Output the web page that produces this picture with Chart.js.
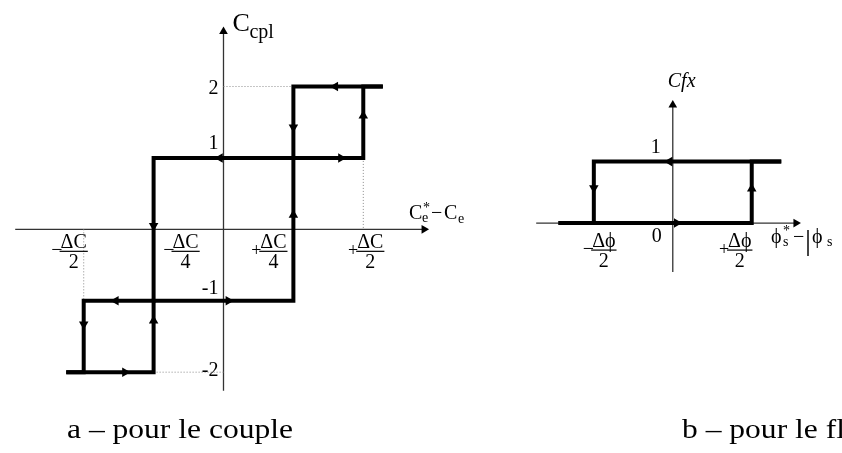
<!DOCTYPE html>
<html>
<head>
  <meta charset="utf-8">
  <title>Comparateurs à hystérésis</title>
  <script src="https://cdn.jsdelivr.net/npm/chart.js"></script>
  <style>
    body { margin: 0; background: #fff; }
    canvas { position: absolute; top: 0; }
    #coupleChart { left: 0; }
    #fluxChart { left: 490px; }
  </style>
</head>
<body>
  <canvas id="coupleChart" width="490" height="453"></canvas>
  <canvas id="fluxChart" width="352" height="453"></canvas>

  <script>
    // ---- (a) torque comparator, 5 levels, x in units of ΔC/4 ----
    var coupleRiseX = [-2.25, -1, -1, 1, 1, 2, 2, 2.28];
    var coupleRiseY = [-2, -2, -1, -1, 1, 1, 2, 2];
    var coupleFallX = [2.28, 1, 1, -1, -1, -2, -2, -2.25];
    var coupleFallY = [2, 2, 1, 1, -1, -1, -2, -2];
    var coupleArrowX = [-1.41, -1, 0.07, 1, 1.68, 2, 1.6, 1, -0.05, -1, -1.54, -2];
    var coupleArrowY = [-2, -1.28, -1, 0.2, 1, 1.59, 2, 1.43, 1, 0.05, -1, -1.33];
    var coupleArrowDir = [90, 0, 90, 0, 90, 0, 270, 180, 270, 180, 270, 180];
    var coupleGuideX = [[0, 1], [2, 2], [-2, -2], [-1, 0]];
    var coupleGuideY = [[2, 2], [1, 0], [0, -1], [-2, -2]];
    var coupleAxisX = [-2.98, 2.87];
    var coupleAxisY = [-2.26, 2.77];
    var coupleLevels = [2, 1, -1, -2];
    var coupleLevelLabels = ['2', '1', '-1', '-2'];
    var coupleThresholds = [-2, -1, 1, 2];
    var coupleThresholdSign = ['−', '−', '+', '+'];
    var coupleThresholdDen = ['2', '4', '4', '2'];

    // ---- (b) flux comparator, 2 levels, x in units of Δϕ/2 ----
    var fluxRiseX = [-1.448, 1, 1, 1.374];
    var fluxRiseY = [0, 0, 1, 1];
    var fluxFallX = [1.374, -1, -1, -1.448];
    var fluxFallY = [1, 1, 0, 0];
    var fluxArrowX = [-0.04, 0.05, -1, 1];
    var fluxArrowY = [1, 0, 0.57, 0.56];
    var fluxArrowDir = [270, 90, 180, 0];
    var fluxAxisX = [-1.73, 1.56];
    var fluxAxisY = [-0.794, 1.92];
    var fluxThresholds = [-1, 1];
    var fluxThresholdSign = ['−', '+'];

    var serif = '"Liberation Serif", "Times New Roman", serif';

    function pts(xs, ys) {
      return xs.map(function (x, i) { return { x: x, y: ys[i] }; });
    }

    function lineSet(data, width, color, dash) {
      return {
        data: data, showLine: true, pointRadius: 0, borderWidth: width,
        borderColor: color, borderDash: dash || [], borderJoinStyle: 'miter',
        borderCapStyle: 'butt', fill: false
      };
    }

    function arrowSet(data, rot, r) {
      return {
        data: data, showLine: false, pointStyle: 'triangle', pointRadius: r,
        pointRotation: rot, backgroundColor: '#000', pointBorderWidth: 0, borderColor: '#000'
      };
    }

    // builds the dataset list: arrows on top, then paths, guides, axes
    function buildSets(o) {
      var sets = [];
      sets.push(arrowSet(pts(o.arrowX, o.arrowY), o.arrowDir, 5.5));
      sets.push(arrowSet([{ x: o.axisX[1], y: 0 }, { x: 0, y: o.axisY[1] }], [90, 0], 5));
      sets.push(lineSet(pts(o.riseX, o.riseY), 4, '#000'));
      sets.push(lineSet(pts(o.fallX, o.fallY), 4, '#000'));
      (o.guideX || []).forEach(function (gx, i) {
        sets.push(lineSet(pts(gx, o.guideY[i]), 1, '#8a8a8a', [1, 2]));
      });
      sets.push(lineSet([{ x: o.axisX[0], y: 0 }, { x: o.axisX[1], y: 0 }], 1.3, '#333'));
      sets.push(lineSet([{ x: 0, y: o.axisY[0] }, { x: 0, y: o.axisY[1] }], 1.3, '#333'));
      return sets;
    }

    function drawFraction(ctx, cx, barY, num, den, sign) {
      ctx.font = '20px ' + serif;
      ctx.textBaseline = 'alphabetic';
      ctx.textAlign = 'center';
      var w = ctx.measureText(num).width;
      ctx.fillText(num, cx, barY - 3);
      ctx.fillText(den, cx, barY + 17);
      ctx.strokeStyle = '#000';
      ctx.lineWidth = 1.2;
      ctx.beginPath();
      ctx.moveTo(cx - w / 2 - 1, barY);
      ctx.lineTo(cx + w / 2 + 1, barY);
      ctx.stroke();
      ctx.textAlign = 'right';
      ctx.font = (sign === '+' ? '18px ' : '20px ') + serif;
      ctx.fillText(sign, cx - w / 2 + (sign === '+' ? 1 : 2), barY + 5);
    }

    // caption under each diagram, stretched to the width used in the document
    function caption(ctx, text, x, w) {
      ctx.save();
      ctx.font = '27px ' + serif;
      ctx.textAlign = 'left';
      var sx = w / ctx.measureText('a – pour le couple').width;
      ctx.translate(x, 438);
      ctx.scale(sx, 1);
      ctx.fillText(text, 0, 0);
      ctx.restore();
    }

    function textPlugin(draw) {
      return {
        id: 'labels',
        afterDraw: function (chart) {
          var ctx = chart.ctx;
          ctx.save();
          ctx.fillStyle = '#000';
          draw(ctx, chart.scales.x, chart.scales.y);
          ctx.restore();
        }
      };
    }

    function makeChart(id, sets, xr, yr, plugin) {
      return new Chart(document.getElementById(id), {
        type: 'scatter',
        data: { datasets: sets },
        options: {
          responsive: false,
          animation: false,
          layout: { padding: 0 },
          plugins: { legend: { display: false }, tooltip: { enabled: false } },
          scales: {
            x: { type: 'linear', display: false, min: xr[0], max: xr[1] },
            y: { type: 'linear', display: false, min: yr[0], max: yr[1] }
          }
        },
        plugins: [plugin]
      });
    }

    // (a) pixel origin 223/229.4, 71.5 px per ΔC/4, 73.2 px per level
    var coupleX = [-223 / 71.5, (490 - 223) / 71.5];
    var coupleY = [(229.4 - 453) / 73.2, 229.4 / 73.2];

    makeChart('coupleChart', buildSets({
      riseX: coupleRiseX, riseY: coupleRiseY, fallX: coupleFallX, fallY: coupleFallY,
      arrowX: coupleArrowX, arrowY: coupleArrowY, arrowDir: coupleArrowDir,
      guideX: coupleGuideX, guideY: coupleGuideY, axisX: coupleAxisX, axisY: coupleAxisY
    }), coupleX, coupleY, textPlugin(function (ctx, xs, ys) {
      var ax = xs.getPixelForValue(0), ay = ys.getPixelForValue(0);
      var dy = { '2': 8, '1': -8.5, '-1': -6.5, '-2': 3.5 };
      ctx.font = '20px ' + serif;
      ctx.textAlign = 'right';
      coupleLevels.forEach(function (v, i) {
        var lab = coupleLevelLabels[i];
        ctx.fillText(lab, ax - 5, ys.getPixelForValue(v) + dy[lab]);
      });
      var dx = { '-2': -10, '-1': 32, '1': -20, '2': 7 };
      coupleThresholds.forEach(function (u, i) {
        drawFraction(ctx, xs.getPixelForValue(u) + dx[u], ay + 22, 'ΔC',
          coupleThresholdDen[i], coupleThresholdSign[i]);
      });
      // axis titles
      var top = ys.getPixelForValue(coupleAxisY[1]);
      ctx.textAlign = 'left';
      ctx.font = '26px ' + serif;
      ctx.fillText('C', ax + 9, top);
      ctx.font = '20px ' + serif;
      ctx.fillText('cpl', ax + 26, top + 7);
      var right = xs.getPixelForValue(coupleAxisX[1]);
      var by = ay - 10;
      ctx.font = '20px ' + serif;
      ctx.fillText('C', right - 15, by);
      ctx.font = '14px ' + serif;
      ctx.fillText('e', right - 2, by + 3);
      ctx.fillText('*', right - 1, by - 7);
      ctx.font = '20px ' + serif;
      ctx.fillText('−', right + 7, by);
      ctx.fillText('C', right + 20, by);
      ctx.font = '14px ' + serif;
      ctx.fillText('e', right + 34, by + 4);
      caption(ctx, 'a – pour le couple', 67, 226);
    }));

    // (b) pixel origin 183/223, 81.5 px per Δϕ/2, 63 px per level
    var fluxX = [-183 / 81.5, (352 - 183) / 81.5];
    var fluxY = [(223 - 453) / 63, 223 / 63];

    makeChart('fluxChart', buildSets({
      riseX: fluxRiseX, riseY: fluxRiseY, fallX: fluxFallX, fallY: fluxFallY,
      arrowX: fluxArrowX, arrowY: fluxArrowY, arrowDir: fluxArrowDir,
      axisX: fluxAxisX, axisY: fluxAxisY
    }), fluxX, fluxY, textPlugin(function (ctx, xs, ys) {
      var ax = xs.getPixelForValue(0), ay = ys.getPixelForValue(0);
      ctx.font = '20px ' + serif;
      ctx.textAlign = 'right';
      ctx.fillText('1', ax - 12, ys.getPixelForValue(1) - 8.5);
      ctx.fillText('0', ax - 11, ay + 18.5);
      var dx = { '-1': 10, '1': -12 };
      fluxThresholds.forEach(function (u, i) {
        drawFraction(ctx, xs.getPixelForValue(u) + dx[u], ay + 27, 'Δϕ', '2', fluxThresholdSign[i]);
      });
      var top = ys.getPixelForValue(fluxAxisY[1]);
      ctx.textAlign = 'left';
      ctx.font = 'italic 20px ' + serif;
      ctx.fillText('Cfx', ax - 5, top - 18);
      // ϕs* − |ϕs
      var lx = xs.getPixelForValue(fluxAxisX[1]) - 25;
      var by = ay + 20;
      ctx.font = '20px ' + serif;
      ctx.fillText('ϕ', lx, by);
      ctx.font = '14px ' + serif;
      ctx.fillText('s', lx + 12, by + 3);
      ctx.fillText('*', lx + 12, by - 8);
      ctx.font = '20px ' + serif;
      ctx.fillText('−', lx + 22, by);
      ctx.font = '30px ' + serif;
      ctx.fillText('|', lx + 34, by + 7);
      ctx.font = '20px ' + serif;
      ctx.fillText('ϕ', lx + 41, by);
      ctx.font = '14px ' + serif;
      ctx.fillText('s', lx + 56, by + 3);
      caption(ctx, 'b – pour le flux', 192, 226);
    }));
  </script>
</body>
</html>
